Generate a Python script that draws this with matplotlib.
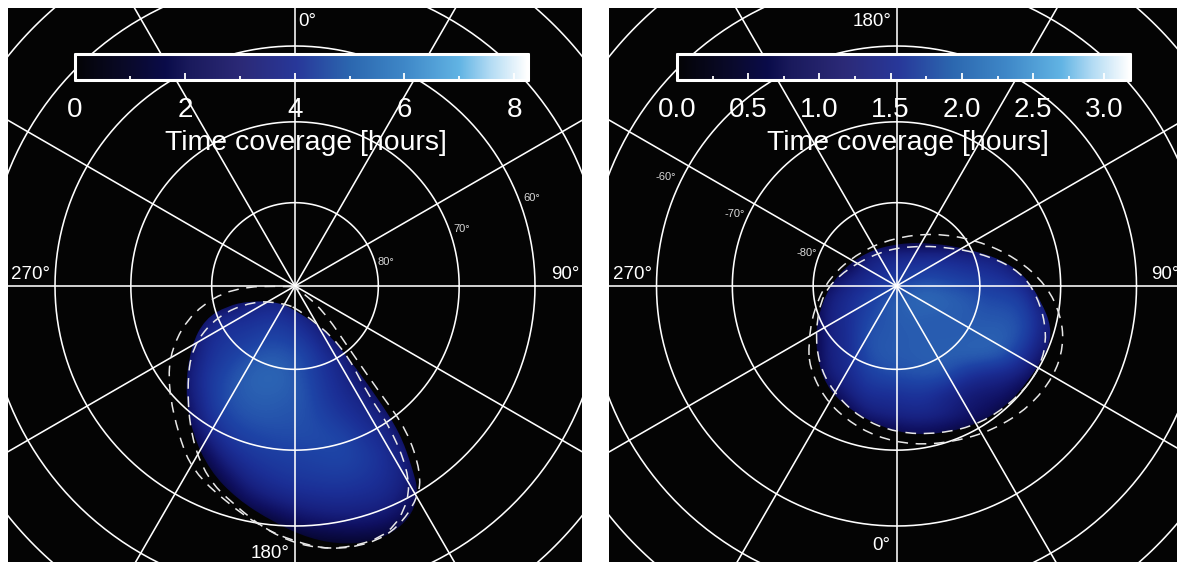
import numpy as np
import matplotlib
matplotlib.use("Agg")
import matplotlib.pyplot as plt
from matplotlib.colors import LinearSegmentedColormap
from matplotlib.patches import PathPatch
from matplotlib.path import Path
from matplotlib.ticker import MultipleLocator

plt.rcParams['font.family'] = ['Liberation Sans', 'DejaVu Sans']

W, H = 1177, 562

#orthographic disk radius in pixels, rings are at r = R*cos(lat)
disk_radius = 480
ring_lats = [80, 70, 60, 50, 40]
spoke_lons = [0, 30, 60, 90, 120, 150, 180, 210, 240, 270, 300, 330]

#colorbar stops, fraction of the bar and colour
cmap_pos = [0, 0.12, 0.2, 0.25, 0.37, 0.49, 0.61, 0.73, 0.85, 0.92, 1]
cmap_cols = ['#040406', '#0a0a2c', '#0a0c4a', '#1a1a5c', '#2c2a78', '#28389a',
             '#2c68b0', '#3f88c8', '#62b4e4', '#b4dcf4', '#ffffff']

#the maps themselves look more saturated than the bar
blob_pos = [0, 0.1, 0.2, 0.3, 0.4, 0.5, 0.58, 0.65, 0.8, 1]
blob_cols = ['#020206', '#08083a', '#0f1060', '#17207f', '#1b2f96', '#1e44a6',
             '#2a60b2', '#3074bc', '#50a0dc', '#ffffff']

#north panel, offsets from the pole in pixels (y down)
n_grid_x = [-130, -110, -90, -70, -50, -30, -10, 10, 30, 50, 70, 90, 110, 130]
n_grid_y = [10, 30, 50, 70, 90, 110, 130, 150, 170, 190, 210, 230, 250, 270]
n_hours = [
    [0, 0, 0, 0, 1.5, 2.5, 2.2, 1.0, 0, 0, 0, 0, 0, 0],
    [0, 0, 1.8, 3.2, 3.2, 3.4, 3.4, 2.7, 1.5, 0, 0, 0, 0, 0],
    [0, 1.0, 3.0, 3.5, 3.6, 4.0, 4.0, 3.5, 2.5, 1.0, 0, 0, 0, 0],
    [0, 1.5, 3.2, 3.8, 4.3, 4.7, 4.6, 4.2, 3.2, 2.5, 0.8, 0, 0, 0],
    [0, 2.0, 3.5, 4.2, 4.8, 5.0, 4.9, 4.3, 3.5, 2.8, 1.5, 0, 0, 0],
    [0, 1.8, 3.4, 4.4, 4.7, 4.8, 4.7, 4.5, 3.6, 3.1, 2.6, 1.0, 0, 0],
    [0, 1.2, 3.2, 4.1, 4.5, 4.6, 4.5, 4.4, 4.0, 3.4, 3.0, 2.4, 0.8, 0],
    [0, 0.5, 2.4, 3.6, 4.0, 4.2, 4.3, 4.3, 4.3, 4.1, 3.4, 3.0, 1.5, 0],
    [0, 0, 1.2, 2.8, 3.5, 3.8, 3.9, 4.0, 4.1, 4.2, 3.8, 3.3, 2.4, 0.5],
    [0, 0, 0.4, 1.6, 2.8, 3.3, 3.6, 3.7, 3.8, 3.8, 3.6, 3.2, 2.6, 1.0],
    [0, 0, 0, 0.6, 1.8, 2.5, 2.9, 3.1, 3.2, 3.2, 3.1, 2.9, 2.2, 0.8],
    [0, 0, 0, 0, 0.5, 1.0, 1.6, 2.1, 2.3, 2.4, 2.3, 2.1, 1.4, 0.3],
    [0, 0, 0, 0, 0, 0, 0.3, 0.7, 0.9, 1.0, 1.0, 0.8, 0.3, 0],
    [0, 0, 0, 0, 0, 0, 0, 0, 0, 0, 0, 0, 0, 0],
]
n_edge_x = [-45, -17, 2, 32, 55, 82, 105, 117, 124, 114, 88, 52, 15, -22, -58, -85,
            -103, -110, -104, -90, -68]
n_edge_y = [15, 16, 25, 46, 74, 111, 147, 181, 208, 234, 253, 259, 253, 236, 213, 185,
            147, 104, 60, 33, 20]
n_dash_outer_x = [-5, -62, -102, -124, -127, -116, -102, -68, -32, -2, 35, 75, 103,
                  123, 126, 112, 85, 55, 28, 2]
n_dash_outer_y = [0, 1, 25, 62, 101, 151, 185, 217, 242, 255, 264, 258, 242, 212,
                  187, 144, 107, 64, 24, 2]
n_dash_inner_x = [-12, -42, -78, -103, -108, -104, -88, -62, -25, 15, 55, 95, 114,
                  113, 95, 72, 47, 5]
n_dash_inner_y = [17, 15, 30, 61, 101, 151, 192, 218, 247, 262, 262, 248, 215, 184,
                  141, 107, 59, 24]

#south panel
s_grid_x = [-90, -70, -50, -30, -10, 10, 30, 50, 70, 90, 110, 130, 150]
s_grid_y = [-50, -30, -10, 10, 30, 50, 70, 90, 110, 130, 150]
s_hours = [
    [0, 0, 0, 0, 0, 0, 0, 0, 0, 0, 0, 0, 0],
    [0, 0, 0, 1.0, 1.15, 1.2, 1.2, 1.2, 1.1, 1.0, 0.8, 0, 0],
    [0, 0.3, 0.9, 1.1, 1.3, 1.45, 1.6, 1.5, 1.4, 1.35, 1.2, 0.9, 0.2],
    [0, 0.9, 1.2, 1.45, 1.75, 1.9, 2.0, 1.9, 1.8, 1.6, 1.6, 1.4, 0.5],
    [0, 1.0, 1.2, 1.6, 1.75, 1.85, 1.8, 1.8, 1.8, 1.75, 1.75, 1.6, 0.9],
    [0, 1.0, 1.15, 1.75, 1.75, 1.8, 1.8, 1.8, 1.8, 1.85, 1.85, 1.6, 0.8],
    [0, 1.0, 1.15, 1.7, 1.8, 1.8, 1.85, 1.85, 1.9, 1.9, 1.75, 1.2, 0.6],
    [0, 0.9, 1.1, 1.5, 1.65, 1.7, 1.75, 1.7, 1.3, 1.1, 1.0, 0.8, 0.2],
    [0, 0.3, 0.9, 1.25, 1.2, 1.3, 1.3, 1.0, 0.8, 0.75, 0.7, 0.2, 0],
    [0, 0, 0.3, 0.9, 1.0, 1.1, 1.1, 1.0, 0.8, 0.6, 0.2, 0, 0],
    [0, 0, 0, 0, 0.2, 0.4, 0.4, 0.3, 0.1, 0, 0, 0, 0],
]
s_edge_x = [-31, -59, -75, -82, -75, -55, -20, 10, 43, 79, 109, 132, 152, 155, 145,
            129, 104, 71, 37, 3]
s_edge_y = [-34, -12, 17, 51, 92, 118, 139, 148, 148, 139, 121, 95, 63, 41, 16,
            -10, -27, -37, -43, -43]
s_dash_outer_x = [-88, -83, -67, -37, -3, 37, 80, 120, 150, 165, 167, 157, 133,
                  97, 57, 17, -20, -50, -73, -87]
s_dash_outer_y = [57, 24, -9, -34, -48, -53, -46, -28, -1, 31, 61, 91, 121, 144,
                  156, 159, 151, 134, 111, 81]
s_dash_inner_x = [-50, -74, -81, -78, -64, -37, 0, 43, 84, 121, 144, 151, 141, 124,
                  93, 53, 13, -17]
s_dash_inner_y = [-17, 7, 44, 77, 105, 132, 147, 148, 138, 112, 82, 47, 10, -14,
                  -30, -39, -40, -34]


#closed smooth outline, the read points are the bezier control points
def smooth_path(xs, ys):
    pts = np.column_stack([xs, ys]).astype(float)
    n = len(pts)
    mids = (pts + np.roll(pts, -1, axis=0)) / 2
    verts = [mids[-1]]
    codes = [Path.MOVETO]
    for i in range(n):
        verts += [pts[i], mids[i]]
        codes += [Path.CURVE3, Path.CURVE3]
    return Path(np.array(verts), codes)


#one polar panel, box is left,top,right,bottom in pixels
def draw_panel(fig, box, pole, cmap, vmax, grid_x, grid_y, hours, edge_x, edge_y,
               dash_a_x, dash_a_y, dash_b_x, dash_b_y):
    l, t, r, b = box
    ax = fig.add_axes([l / W, 1 - b / H, (r - l) / W, (b - t) / H])
    ax.set_facecolor('#040404')
    ax.set_xticks([])
    ax.set_yticks([])
    for s in ax.spines.values():
        s.set_visible(False)

    dx = grid_x[1] - grid_x[0]
    dy = grid_y[1] - grid_y[0]
    im = ax.imshow(np.array(hours), cmap=cmap, vmin=0, vmax=vmax, interpolation='bicubic',
                   extent=[grid_x[0] - dx / 2, grid_x[-1] + dx / 2,
                           grid_y[-1] + dy / 2, grid_y[0] - dy / 2], aspect='auto', zorder=1)
    edge = PathPatch(smooth_path(edge_x, edge_y), transform=ax.transData,
                     facecolor='none', edgecolor='none')
    ax.add_patch(edge)
    im.set_clip_path(edge)
    ax.set_xlim(l - pole[0], r - pole[0])
    ax.set_ylim(b - pole[1], t - pole[1])

    #graticule
    theta = np.radians(np.arange(0, 361, 1))
    for lat in ring_lats:
        rad = disk_radius * np.cos(np.radians(lat))
        ax.plot(rad * np.cos(theta), rad * np.sin(theta), color='white', lw=1.15, zorder=3)
    for lon in spoke_lons:
        a = np.radians(lon)
        ax.plot([0, 600 * np.sin(a)], [0, 600 * np.cos(a)], color='white', lw=1.15, zorder=3)

    for xs, ys in [(dash_a_x, dash_a_y), (dash_b_x, dash_b_y)]:
        ax.add_patch(PathPatch(smooth_path(xs, ys), facecolor='none', edgecolor='#e8e8e8',
                               lw=1.1, linestyle=(0, (7, 5)), zorder=4))
    return ax


def draw_colorbar(fig, box, cmap, vmax, major, minor, fmt):
    l, t, r, b = box
    cax = fig.add_axes([l / W, 1 - b / H, (r - l) / W, (b - t) / H])
    cax.imshow(np.linspace(0, 1, 256).reshape(1, -1), cmap=cmap, aspect='auto',
               extent=[0, vmax, 0, 1], zorder=1)
    cax.set_yticks([])
    cax.xaxis.set_major_locator(MultipleLocator(major))
    cax.xaxis.set_minor_locator(MultipleLocator(minor))
    cax.xaxis.set_major_formatter(fmt)
    cax.tick_params(axis='x', which='major', direction='in', length=5, width=1.3, color='white',
                    labelcolor='white', labelsize=20, pad=12)
    cax.tick_params(axis='x', which='minor', direction='in', length=3, width=1.3, color='white')
    cax.set_xlabel('Time coverage [hours]', color='white', fontsize=20.4, labelpad=5)
    cax.xaxis.label.set_x(0.51)
    for s in cax.spines.values():
        s.set_color('white')
        s.set_linewidth(2.2)
        s.set_capstyle('round')
    return cax


def put_text(fig, items, size, color):
    for x, y, txt in items:
        fig.text(x / W, 1 - y / H, txt, color=color, fontsize=size, ha='center', va='center')


def main():
    fig = plt.figure(figsize=(W / 100, H / 100), dpi=100, facecolor='white')
    bar_cmap = LinearSegmentedColormap.from_list('bar', list(zip(cmap_pos, cmap_cols)))
    map_cmap = LinearSegmentedColormap.from_list('map', list(zip(blob_pos, blob_cols)))

    draw_panel(fig, (8, 8, 582, 562), (295, 286), map_cmap, 8.25, n_grid_x, n_grid_y, n_hours,
               n_edge_x, n_edge_y, n_dash_outer_x, n_dash_outer_y, n_dash_inner_x, n_dash_inner_y)
    draw_panel(fig, (609, 8, 1177, 562), (896.5, 286), map_cmap, 3.18, s_grid_x, s_grid_y, s_hours,
               s_edge_x, s_edge_y, s_dash_outer_x, s_dash_outer_y, s_dash_inner_x, s_dash_inner_y)

    draw_colorbar(fig, (75, 54, 528, 80), bar_cmap, 8.25, 2, 1, lambda v, p: '%d' % v)
    draw_colorbar(fig, (677, 54, 1130, 80), bar_cmap, 3.18, 0.5, 0.25, lambda v, p: '%.1f' % v)

    put_text(fig, [(307, 22, '0°'), (31, 275, '270°'), (565, 275, '90°'), (270, 553, '180°'),
                   (872, 22, '180°'), (632, 275, '270°'), (1165, 275, '90°'), (881, 546, '0°')],
             13.5, 'white')
    put_text(fig, [(386, 262, '80°'), (462, 229, '70°'), (532, 198, '60°'),
                   (807, 253, '-80°'), (735, 214, '-70°'), (666, 177, '-60°')],
             8, '#d8d8d8')

    fig.savefig('out.png', dpi=100, facecolor='white')


if __name__ == '__main__':
    main()
